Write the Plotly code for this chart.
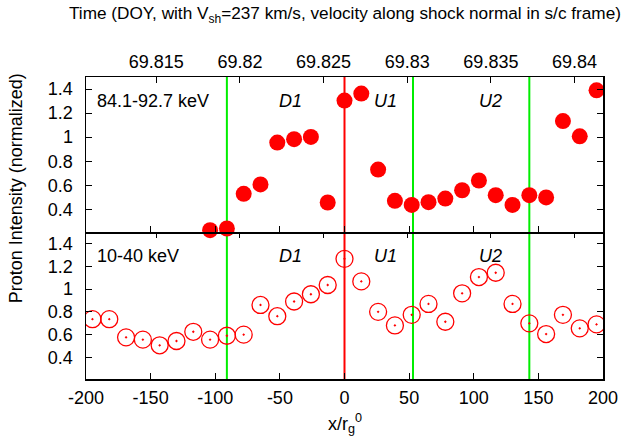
import plotly.graph_objects as go

# ---- data ----
x_top = [-104, -91, -78, -65, -52, -39, -26, -13, 0, 13, 26, 39, 52, 65, 78, 91,
         104, 117, 130, 143, 156, 169, 182, 195]
y_top = [0.227, 0.241, 0.529, 0.607, 0.955, 0.983, 1.002, 0.457, 1.304, 1.362,
         0.731, 0.471, 0.437, 0.460, 0.490, 0.559, 0.640, 0.518, 0.437, 0.518,
         0.499, 1.134, 1.007, 1.389]

x_bot = [-195, -182, -169, -156, -143, -130, -117, -104, -91, -78, -65, -52, -39,
         -26, -13, 0, 13, 26, 39, 52, 65, 78, 91, 104, 117, 130, 143, 156, 169,
         182, 195]
y_bot = [0.736, 0.736, 0.576, 0.556, 0.506, 0.544, 0.625, 0.556, 0.590, 0.600,
         0.861, 0.762, 0.891, 0.955, 1.036, 1.266, 1.068, 0.800, 0.681, 0.774,
         0.870, 0.713, 0.963, 1.106, 1.144, 0.870, 0.699, 0.605, 0.774, 0.655,
         0.690]

x_ticks = [-200, -150, -100, -50, 0, 50, 100, 150, 200]
x_ticktext = ["-200", "-150", "-100", "-50", "0", "50", "100", "150", "200"]
y_ticks = [0.4, 0.6, 0.8, 1.0, 1.2, 1.4]
y_ticktext = ["0.4", "0.6", "0.8", "1", "1.2", "1.4"]
time_ticks = [69.815, 69.82, 69.825, 69.83, 69.835, 69.84]
time_ticktext = ["69.815", "69.82", "69.825", "69.83", "69.835", "69.84"]

green_lines = [-91, 53, 143]
red_lines = [0]
region_labels = ["D1", "U1", "U2"]
region_x = [-42, 32, 113]

# time axis mapping (DOY at x=0 and DOY per unit x/rg0)
T0 = 69.82625
DT_PER_X = 7.7256e-5
x_range = [-200, 200]
t_range = [T0 + x_range[0] * DT_PER_X, T0 + x_range[1] * DT_PER_X]
y_range = [0.21, 1.5]

FONT = "Liberation Sans, Arial, sans-serif"
FS = 18

fig = go.Figure()
fig.add_trace(go.Scatter(x=x_top, y=y_top, xaxis="x2", yaxis="y2", mode="markers",
                         marker=dict(symbol="circle", size=16, color="#ff0000"),
                         cliponaxis=False, showlegend=False))
fig.add_trace(go.Scatter(x=x_bot, y=y_bot, xaxis="x", yaxis="y", mode="markers",
                         marker=dict(symbol="circle-open-dot", size=17, color="#ff0000",
                                     line=dict(width=1.3, color="#ff0000")),
                         showlegend=False))
# invisible helpers so the time axes get drawn
for xa, ya in (("x3", "y2"), ("x4", "y")):
    fig.add_trace(go.Scatter(x=t_range, y=y_range, xaxis=xa, yaxis=ya, mode="markers",
                             marker=dict(opacity=0), hoverinfo="skip", showlegend=False))

split = 0.486
common_ax = dict(showgrid=False, zeroline=False, linecolor="black",
                 linewidth=1.5, ticks="inside", ticklen=6, tickcolor="black",
                 tickfont=dict(family=FONT, size=FS, color="black"))

fig.update_layout(
    width=631, height=441,
    margin=dict(l=86, r=28, t=77, b=62),
    paper_bgcolor="white", plot_bgcolor="white",
    font=dict(family=FONT, size=FS, color="black"),
    hovermode=False,
    xaxis=dict(anchor="y", range=x_range, tickvals=x_ticks, ticktext=x_ticktext,
               showline=True, ticklabelstandoff=2, **common_ax),
    xaxis2=dict(anchor="y2", matches="x", range=x_range, tickvals=x_ticks,
                showline=True, showticklabels=False, **common_ax),
    xaxis3=dict(overlaying="x2", anchor="y2", side="top", range=t_range,
                tickvals=time_ticks, ticktext=time_ticktext, ticklabelstandoff=0,
                showline=True, **common_ax),
    xaxis4=dict(overlaying="x", anchor="y", side="top", range=t_range,
                tickvals=time_ticks, showticklabels=False, showline=False, **common_ax),
    yaxis=dict(domain=[0, split], range=y_range, tickvals=y_ticks, ticktext=y_ticktext,
               showline=True, mirror="ticks", ticklabelstandoff=8, **common_ax),
    yaxis2=dict(domain=[split, 1], range=y_range, tickvals=y_ticks, ticktext=y_ticktext,
                showline=True, mirror="ticks", ticklabelstandoff=8, **common_ax),
)

shapes = []
for xv in green_lines:
    shapes.append(dict(type="line", xref="x", yref="paper", x0=xv, x1=xv, y0=0, y1=1,
                       line=dict(color="#00ee00", width=2), layer="below"))
for xv in red_lines:
    shapes.append(dict(type="line", xref="x", yref="paper", x0=xv, x1=xv, y0=0, y1=1,
                       line=dict(color="#ff0000", width=2), layer="below"))
fig.update_layout(shapes=shapes)

ann = []
for name, xv in zip(region_labels, region_x):
    ann.append(dict(x=xv, y=1.30, xref="x2", yref="y2", text=f"<i>{name}</i>",
                    showarrow=False, font=dict(family=FONT, size=FS)))
    ann.append(dict(x=xv, y=1.295, xref="x", yref="y", text=f"<i>{name}</i>",
                    showarrow=False, font=dict(family=FONT, size=FS)))
ann.append(dict(x=-193, y=1.30, xref="x2", yref="y2", text="84.1-92.7 keV",
                xanchor="left", showarrow=False, font=dict(family=FONT, size=FS)))
ann.append(dict(x=-193, y=1.295, xref="x", yref="y", text="10-40 keV",
                xanchor="left", showarrow=False, font=dict(family=FONT, size=FS)))
ann.append(dict(x=0.5, y=1.207, xref="paper", yref="paper",
                text="Time (DOY, with V<sub>sh</sub>=237 km/s, velocity along shock normal in s/c frame)",
                showarrow=False, xanchor="center", yanchor="middle",
                font=dict(family=FONT, size=17.2)))
ann.append(dict(x=-0.135, y=0.632, xref="paper", yref="paper",
                text="Proton Intensity (normalized)", textangle=-90,
                showarrow=False, xanchor="center", yanchor="middle",
                font=dict(family=FONT, size=FS)))
ann.append(dict(x=0.5, y=-0.148, xref="paper", yref="paper",
                text="x/r<sub>g</sub><sup>0</sup>",
                showarrow=False, xanchor="center", yanchor="middle",
                font=dict(family=FONT, size=FS)))
fig.update_layout(annotations=ann)

fig.write_html("out.html", config={"displayModeBar": False, "staticPlot": True},
               post_script="document.body.style.margin='0px';")
